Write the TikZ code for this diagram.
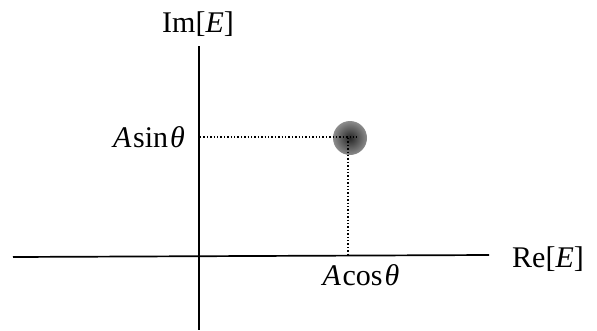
\documentclass[tikz,border=0pt]{standalone}
\usepackage{fontspec}
\setmainfont{Liberation Serif}
\begin{document}
\begin{tikzpicture}[x=1pt,y=-1pt,
  axis/.style={line width=1.7pt, black},
  guide/.style={line width=1.4pt, dotted, black},
  lbl/.style={font=\fontsize{30}{33}\selectfont, inner sep=0pt}]
\useasboundingbox (0,0) rectangle (597,330);
\coordinate (xl) at (13,257);
\coordinate (xr) at (489,255);
\coordinate (yt) at (199,46);
\coordinate (yb) at (199,330);
\draw[axis] (xl) -- (xr);
\draw[axis] (yt) -- (yb);
\node[circle, minimum size=34pt, inner sep=0pt, shading=radial, inner color=black!85, outer color=black!45] (pt) at (350,138) {};
\coordinate (py) at (200,137);
\coordinate (px) at (348,256);
\draw[guide] (py) -- (357,137);
\draw[guide] (348,138) -- (px);
\node[lbl, anchor=base] (im) at (198,32) {Im[\textit{E}]};
\node[lbl, anchor=base] (re) at (548,267) {Re[\textit{E}]};
\node[lbl, anchor=base] (as) at (149,147) {\textit{A}\kern1.5pt sin\kern2pt\textit{θ}};
\node[lbl, anchor=base] (ac) at (361,285) {\textit{A}\kern1.5pt cos\kern2pt\textit{θ}};
\end{tikzpicture}
\end{document}
